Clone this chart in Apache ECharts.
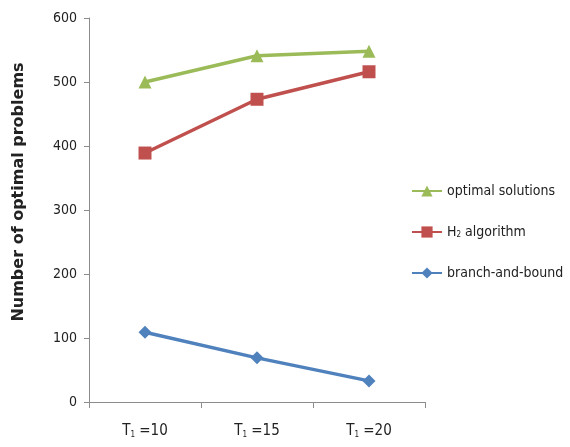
<!DOCTYPE html>
<html><head><meta charset="utf-8">
<script src="https://cdn.jsdelivr.net/npm/echarts@6/dist/echarts.min.js"></script>
<style>html,body{margin:0;padding:0;background:#fff}#c{width:570px;height:447px}</style>
</head><body><div id="c"></div>
<script>
const categories = ['10', '15', '20'];
const optimalSolutions = [500, 541, 548];
const h2Algorithm = [389, 473, 516];
const branchAndBound = [109, 69, 33];
const yTicks = [0, 100, 200, 300, 400, 500, 600];

const FONT = '"Liberation Sans Narrow", "DejaVu Sans Condensed", "Liberation Sans", sans-serif';
const chart = echarts.init(document.getElementById('c'), null, {renderer: 'canvas'});
const seriesNames = ['optimal solutions', 'H2 algorithm', 'branch-and-bound'];
chart.setOption({
  animation: false,
  backgroundColor: '#fff',
  grid: {left: 89, right: 145, top: 18, bottom: 45},
  legend: {
    orient: 'vertical', left: 406, top: 179, itemGap: 27,
    itemWidth: 30, itemHeight: 14,
    data: seriesNames,
    textStyle: {fontFamily: FONT, fontSize: 14, color: '#222',
      rich: {b: {fontFamily: FONT, fontSize: 14, color: '#222'}, s: {fontFamily: FONT, fontSize: 8, color: '#222', verticalAlign: 'bottom', padding: [6, 0, 0, 0]}}},
    formatter: function (n) { return n === 'H2 algorithm' ? '{b|H}{s|2}{b| algorithm}' : n; }
  },
  xAxis: {
    type: 'category', data: categories, boundaryGap: true,
    axisLine: {lineStyle: {color: '#8c8c8c', width: 1}},
    axisTick: {show: true, length: 6, alignWithLabel: false, lineStyle: {color: '#8c8c8c'}},
    axisLabel: {margin: 22, formatter: function (v) { return '{t|T}{s|1}{t| =' + v + '}'; },
      rich: {t: {fontFamily: FONT, fontSize: 15, color: '#222'}, s: {fontFamily: FONT, fontSize: 8, color: '#222', verticalAlign: 'bottom', padding: [7, 0, 0, 0]}}}
  },
  yAxis: {
    type: 'value', min: yTicks[0], max: yTicks[yTicks.length - 1], interval: 100,
    name: 'Number of optimal problems', nameLocation: 'middle', nameGap: 62, nameRotate: 90,
    nameTextStyle: {fontFamily: '"DejaVu Sans", sans-serif', fontWeight: 'bold', fontSize: 16, color: '#222', padding: [0, 0, 0, 36]},
    axisLine: {show: true, lineStyle: {color: '#8c8c8c', width: 1}},
    axisTick: {show: true, length: 5, lineStyle: {color: '#8c8c8c'}},
    splitLine: {show: false},
    axisLabel: {margin: 12, fontFamily: FONT, fontSize: 14, color: '#222'}
  },
  series: [
    {name: seriesNames[0], type: 'line', data: optimalSolutions, symbol: 'triangle', symbolSize: 13,
      lineStyle: {color: '#9BBB59', width: 3.5}, itemStyle: {color: '#9BBB59'}},
    {name: seriesNames[1], type: 'line', data: h2Algorithm, symbol: 'rect', symbolSize: 13,
      lineStyle: {color: '#C0504D', width: 3.5}, itemStyle: {color: '#C0504D'}},
    {name: seriesNames[2], type: 'line', data: branchAndBound, symbol: 'diamond', symbolSize: 13,
      lineStyle: {color: '#4F81BD', width: 3.5}, itemStyle: {color: '#4F81BD'}}
  ]
});
</script></body></html>
